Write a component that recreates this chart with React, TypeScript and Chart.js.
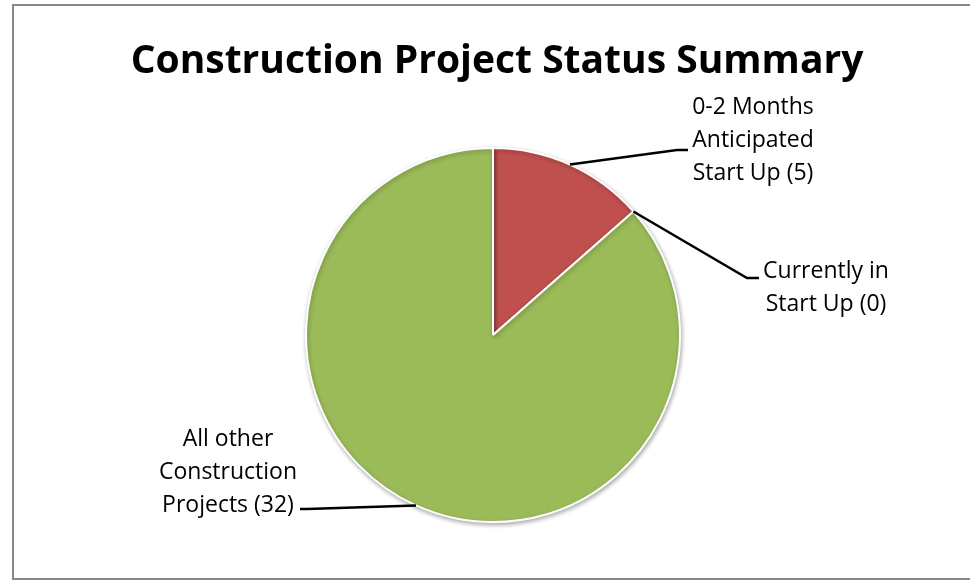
import React, { useEffect, useRef } from "react";
import { Chart, registerables } from "chart.js";

Chart.register(...registerables);

const chartTitle = "Construction Project Status Summary";
const categories = [
  "0-2 Months Anticipated Start Up",
  "Currently in Start Up",
  "All other Construction Projects",
];
const counts = [5, 0, 32];
const labelLines = [
  ["0-2 Months", "Anticipated", "Start Up (5)"],
  ["Currently in", "Start Up (0)"],
  ["All other", "Construction", "Projects (32)"],
];
const sliceColors = ["#C0504D", "#9BBB59", "#9BBB59"];

const W = 970;
const H = 582;

// label layout: elbow point, end of leader, text center x, first line center y
const labelLayout = [
  { elbow: [677, 150], end: [688, 150], tx: 753, ty: 107 },
  { elbow: [747, 278], end: [759, 278], tx: 826, ty: 271 },
  { elbow: [307, 509], end: [300, 509], tx: 228, ty: 439 },
];
const LINE_H = 33;
const FONT = '"Open Sans", "DejaVu Sans", sans-serif';

const decorPlugin = {
  id: "decor",
  beforeDraw(chart: any) {
    const ctx = chart.ctx;
    ctx.save();
    ctx.fillStyle = "#ffffff";
    ctx.fillRect(0, 0, W, H);
    ctx.strokeStyle = "#878787";
    ctx.lineWidth = 2;
    ctx.strokeRect(13, 5, W + 20, 574);
    // title
    ctx.fillStyle = "#000000";
    ctx.font = `bold 39px ${FONT}`;
    ctx.textAlign = "center";
    ctx.textBaseline = "alphabetic";
    ctx.fillText(chartTitle, 497, 73, 740);
    ctx.restore();
  },
  beforeDatasetsDraw(chart: any) {
    const ctx = chart.ctx;
    ctx.save();
    ctx.shadowColor = "rgba(0,0,0,0.30)";
    ctx.shadowBlur = 4;
    ctx.shadowOffsetX = 1;
    ctx.shadowOffsetY = 2;
  },
  afterDatasetsDraw(chart: any) {
    const ctx = chart.ctx;
    ctx.restore();
    const meta = chart.getDatasetMeta(0);
    ctx.save();
    meta.data.forEach((arc: any, i: number) => {
      const p = arc.getProps(["x", "y", "startAngle", "endAngle", "outerRadius"], true);
      const mid = (p.startAngle + p.endAngle) / 2;
      const ax = p.x + Math.cos(mid) * p.outerRadius;
      const ay = p.y + Math.sin(mid) * p.outerRadius;
      const L = labelLayout[i];
      ctx.strokeStyle = "#000000";
      ctx.lineWidth = 2.5;
      ctx.beginPath();
      ctx.moveTo(ax, ay);
      ctx.lineTo(L.elbow[0], L.elbow[1]);
      ctx.lineTo(L.end[0], L.end[1]);
      ctx.stroke();
      ctx.fillStyle = "#000000";
      ctx.font = `23px ${FONT}`;
      ctx.textAlign = "center";
      ctx.textBaseline = "middle";
      labelLines[i].forEach((t, k) => {
        ctx.fillText(t, L.tx, L.ty + k * LINE_H);
      });
    });
    ctx.restore();
  },
};

export default function App() {
  const ref = useRef<HTMLCanvasElement | null>(null);
  useEffect(() => {
    if (!ref.current) return;
    const chart = new Chart(ref.current, {
      type: "pie",
      data: {
        labels: categories,
        datasets: [
          {
            data: counts,
            backgroundColor: sliceColors,
            borderColor: "#ffffff",
            borderWidth: 2,
          },
        ],
      },
      options: {
        responsive: false,
        animation: false,
        events: [],
        layout: { padding: { left: 305, right: 289, top: 147, bottom: 59 } },
        plugins: {
          legend: { display: false },
          title: { display: false },
          tooltip: { enabled: false },
        },
      },
      plugins: [decorPlugin],
    });
    return () => chart.destroy();
  }, []);
  return (
    <div style={{ position: "absolute", left: 0, top: 0, width: W, height: H }}>
      <canvas ref={ref} width={W} height={H} style={{ width: W, height: H, display: "block" }} />
    </div>
  );
}
